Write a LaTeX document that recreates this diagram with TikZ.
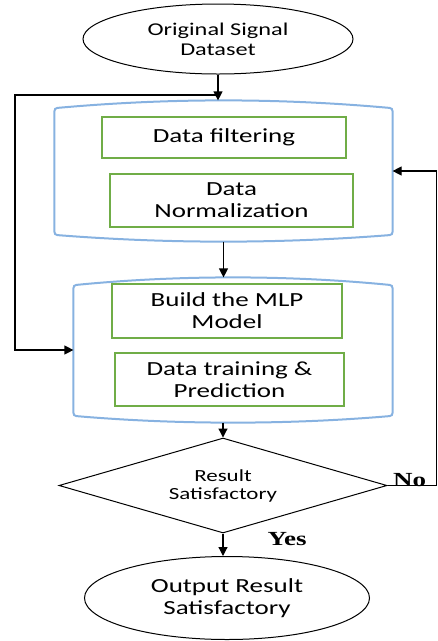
\documentclass[tikz,border=0pt]{standalone}
\usepackage{fontspec}
\usepackage{tikz}
\usetikzlibrary{shapes.geometric, positioning, arrows.meta}

\newfontfamily\boxfont[FakeStretch=1.35]{Carlito}
\newfontfamily\tagfont[FakeStretch=1.35]{Liberation Serif}
\definecolor{panelblue}{RGB}{135,178,225}
\definecolor{stepgreen}{RGB}{112,173,71}

\begin{document}
\begin{tikzpicture}[
    x=1pt, y=-1pt,
    line width=1.2pt,
    terminal/.style={draw, ellipse, line width=1pt, inner sep=0pt, align=center, font=\boxfont\fontsize{18}{20}\selectfont},
    stage/.style={rectangle, inner sep=0pt},
    panel/.style={draw=panelblue, line width=2pt},
    process/.style={draw=stepgreen, line width=1.3pt, rectangle, inner sep=0pt, align=center, font=\boxfont\fontsize{20}{22}\selectfont},
    decision/.style={draw, diamond, aspect=3.45, line width=1pt, inner sep=0pt, align=center, font=\boxfont\fontsize{17}{18}\selectfont},
    flow/.style={-{Triangle[length=9pt, width=9pt]}},
    answer/.style={font=\tagfont\bfseries\fontsize{20}{22}\selectfont, inner sep=0pt}
]
    \useasboundingbox (0,0) rectangle (438,641);

    % --- Start / End ---
    \node[terminal, minimum width=270pt, minimum height=70pt] (source) at (218,39) {Original Signal\\Dataset};
    \node[terminal, minimum width=285pt, minimum height=83pt, font=\boxfont\fontsize{20}{22}\selectfont] (result) at (227,598) {Output Result\\Satisfactory};

    % --- Stages ---
    \node[stage, minimum width=337pt, minimum height=140pt] (prep) at (223.5,171) {};
    \node[stage, minimum width=318pt, minimum height=144pt] (model) at (233,350) {};

    % Stage outlines (bowed top and bottom, tight corners)
    \foreach \p in {prep,model} {
        \draw[panel]
            ([shift={(0,-10)}]\p.south west) -- ([shift={(0,11)}]\p.north west)
            .. controls ([shift={(0,8.5)}]\p.north west) and ([shift={(1,8)}]\p.north west) .. ([shift={(3,7.5)}]\p.north west)
            .. controls ([shift={(-55,-2.5)}]\p.north) and ([shift={(55,-2.5)}]\p.north) .. ([shift={(-3,7.5)}]\p.north east)
            .. controls ([shift={(-1,8)}]\p.north east) and ([shift={(0,8.5)}]\p.north east) .. ([shift={(0,11)}]\p.north east)
            -- ([shift={(0,-10)}]\p.south east)
            .. controls ([shift={(0,-7.5)}]\p.south east) and ([shift={(-1,-7)}]\p.south east) .. ([shift={(-3,-6.5)}]\p.south east)
            .. controls ([shift={(55,2.2)}]\p.south) and ([shift={(-55,2.2)}]\p.south) .. ([shift={(3,-6.5)}]\p.south west)
            .. controls ([shift={(1,-7)}]\p.south west) and ([shift={(0,-7.5)}]\p.south west) .. cycle;
    }

    % --- Steps ---
    \node[process, minimum width=244pt, minimum height=41pt] (filter) at (224,137.5) {Data filtering};
    \node[process, minimum width=243pt, minimum height=53pt] (norm) at (231.5,200.5) {Data\\Normalization};
    \node[process, minimum width=230pt, minimum height=54pt] (mlp) at (227,311) {Build the MLP\\Model};
    \node[process, minimum width=229pt, minimum height=53pt] (train) at (229.5,379.5) {Data training \&\\Prediction};

    % --- Decision ---
    \node[decision, minimum width=328pt, minimum height=95pt] (check) at (223,485.5) {Result\\Satisfactory};

    % --- Connections ---
    \coordinate (split) at (15,95);
    \draw[flow] (source.south) -- (source.south |- prep.north);
    \draw[flow] (source.south |- split) -- (split) |- (model.west);
    \draw[flow] (prep.south) -- (prep.south |- model.north);
    \draw[flow] (check.north |- model.south) -- (check.north);
    \draw[flow] (check.south) -- (check.south |- result.north);
    \draw[flow] (check.east) -- ++(49,0) |- (prep.east);

    % --- Branch labels ---
    \node[answer, anchor=base west] (no) at ([shift={(5,0.5)}]check.east) {No};
    \node[answer, anchor=base west] (yes) at ([shift={(44,12)}]check.south) {Yes};

\end{tikzpicture}
\end{document}
